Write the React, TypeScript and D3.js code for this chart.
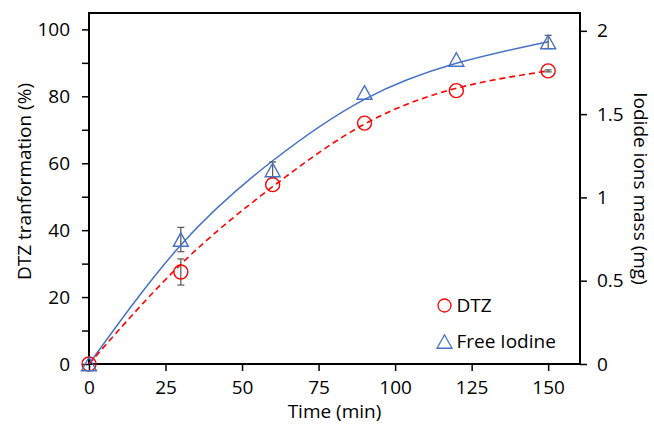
import React, { useEffect, useRef } from 'react';
import * as d3 from 'd3';

// sampling times (min)
const times = [0, 30, 60, 90, 120, 150];
// DTZ transformation (%), left axis
const dtz = [0, 27.5, 53.6, 72.0, 81.7, 87.6];
const dtzErr = [0, 3.9, 0, 0, 0, 0.3];
// free iodine (mg), right axis
const iodine = [0, 0.747, 1.165, 1.63, 1.828, 1.933];
const iodineErr = [0, 0.073, 0.048, 0, 0, 0.04];
// fitted curves
const dtzFitT = [0, 30, 60, 90, 120, 150];
const dtzFit = [0, 29.8, 53.0, 71.7, 82.4, 87.6];
const iodFitT = [0, 30, 60, 90, 120, 150];
const iodFit = [0, 0.714, 1.22, 1.589, 1.805, 1.935];

const xTicks = [0, 25, 50, 75, 100, 125, 150];
const yLeftTicks = [0, 20, 40, 60, 80, 100];
const yLeftMinor = [10, 30, 50, 70, 90];
const yRightTicks = [0, 0.5, 1, 1.5, 2];

const FONT = '"Open Sans", sans-serif';
const RED = '#ff0000';
const BLUE = '#4472c4';

const App = () => {
  const ref = useRef<SVGSVGElement>(null);

  useEffect(() => {
    const W = 654, H = 424;
    const m = { top: 13, right: 74, bottom: 60, left: 89 };
    const w = W - m.left - m.right;
    const h = H - m.top - m.bottom;

    const svg = d3.select(ref.current);
    svg.selectAll('*').remove();
    const g = svg.append('g').attr('transform', `translate(${m.left},${m.top})`);

    const x = d3.scaleLinear().domain([0, 160.4]).range([0, w]);
    const yL = d3.scaleLinear().domain([0, 104.9]).range([h, 0]);
    const yR = d3.scaleLinear().domain([0, 2.107]).range([h, 0]);

    // axes
    const styleAxis = (a: any) => {
      a.select('.domain').remove();
      a.selectAll('line').attr('stroke', '#000').attr('stroke-width', 1.5);
      a.selectAll('text').attr('font-family', FONT).attr('font-size', 19).attr('fill', '#000');
    };

    g.append('g')
      .attr('transform', `translate(0,${h})`)
      .call(d3.axisBottom(x).tickValues(xTicks).tickSize(7).tickPadding(10).tickFormat(d3.format('d')))
      .call(styleAxis);

    g.append('g')
      .call(d3.axisLeft(yL).tickValues(yLeftTicks).tickSize(7).tickPadding(12).tickFormat(d3.format('d')))
      .call(styleAxis);
    g.append('g')
      .call(d3.axisLeft(yL).tickValues(yLeftMinor).tickSize(7).tickFormat(() => ''))
      .call(styleAxis);

    g.append('g')
      .attr('transform', `translate(${w},0)`)
      .call(d3.axisRight(yR).tickValues(yRightTicks).tickSize(7).tickPadding(10).tickFormat(d3.format('~g')))
      .call(styleAxis);

    // frame
    g.append('path')
      .attr('d', `M0,0H${w}V${h}H0Z`)
      .attr('fill', 'none').attr('stroke', '#000').attr('stroke-width', 2);

    // fit curves
    const lineL = d3.line<number>().x((_, i) => x(dtzFitT[i])).y(d => yL(d)).curve(d3.curveNatural);
    const lineR = d3.line<number>().x((_, i) => x(iodFitT[i])).y(d => yR(d)).curve(d3.curveNatural);

    g.append('path').attr('d', lineR(iodFit))
      .attr('fill', 'none').attr('stroke', BLUE).attr('stroke-width', 1.5);
    g.append('path').attr('d', lineL(dtzFit))
      .attr('fill', 'none').attr('stroke', RED).attr('stroke-width', 1.6)
      .attr('stroke-dasharray', '6,4');

    // error bars
    const errBars = (vals: number[], errs: number[], y: any) => {
      const eg = g.append('g').attr('stroke', '#555').attr('stroke-width', 1.2);
      vals.forEach((v, i) => {
        if (!errs[i]) return;
        const cx = x(times[i]);
        const y1 = y(v + errs[i]), y2 = y(v - errs[i]);
        eg.append('line').attr('x1', cx).attr('x2', cx).attr('y1', y1).attr('y2', y2);
        eg.append('line').attr('x1', cx - 3.5).attr('x2', cx + 3.5).attr('y1', y1).attr('y2', y1);
        eg.append('line').attr('x1', cx - 3.5).attr('x2', cx + 3.5).attr('y1', y2).attr('y2', y2);
      });
    };
    errBars(dtz, dtzErr, yL);
    errBars(iodine, iodineErr, yR);

    const triPath = (cx: number, cy: number) => {
      const s = 15, th = 13.5;
      return `M${cx},${cy - th / 2}L${cx + s / 2},${cy + th / 2}L${cx - s / 2},${cy + th / 2}Z`;
    };

    // markers
    g.append('g').selectAll('circle').data(dtz).enter().append('circle')
      .attr('cx', (_, i) => x(times[i])).attr('cy', d => yL(d)).attr('r', 7)
      .attr('fill', 'none').attr('stroke', RED).attr('stroke-width', 1.4);

    g.append('g').selectAll('path').data(iodine).enter().append('path')
      .attr('d', (d, i) => triPath(x(times[i]), yR(d)))
      .attr('fill', 'none').attr('stroke', BLUE).attr('stroke-width', 1.4);

    // legend
    const lg = svg.append('g').attr('font-family', FONT).attr('font-size', 19);
    lg.append('circle').attr('cx', 444.5).attr('cy', 305.5).attr('r', 6.5)
      .attr('fill', 'none').attr('stroke', RED).attr('stroke-width', 1.3);
    lg.append('text').attr('x', 456.5).attr('y', 312).text('DTZ');
    lg.append('path').attr('d', triPath(444.5, 341.5))
      .attr('fill', 'none').attr('stroke', BLUE).attr('stroke-width', 1.3);
    lg.append('text').attr('x', 456.5).attr('y', 348).text('Free Iodine');

    // axis titles
    svg.append('text')
      .attr('x', m.left + w / 2).attr('y', 418)
      .attr('text-anchor', 'middle')
      .attr('font-family', FONT).attr('font-size', 19)
      .text('Time (min)');

    svg.append('text')
      .attr('transform', `translate(31,${m.top + h / 2 - 7}) rotate(-90)`)
      .attr('text-anchor', 'middle')
      .attr('font-family', FONT).attr('font-size', 19)
      .text('DTZ tranformation (%)');

    svg.append('text')
      .attr('transform', `translate(634,${m.top + h / 2}) rotate(90)`)
      .attr('text-anchor', 'middle')
      .attr('font-family', FONT).attr('font-size', 19)
      .text('Iodide ions mass (mg)');
  }, []);

  return (
    <svg ref={ref} width={654} height={424} style={{ position: 'absolute', left: 0, top: 0, background: '#fff' }} />
  );
};

export default App;
